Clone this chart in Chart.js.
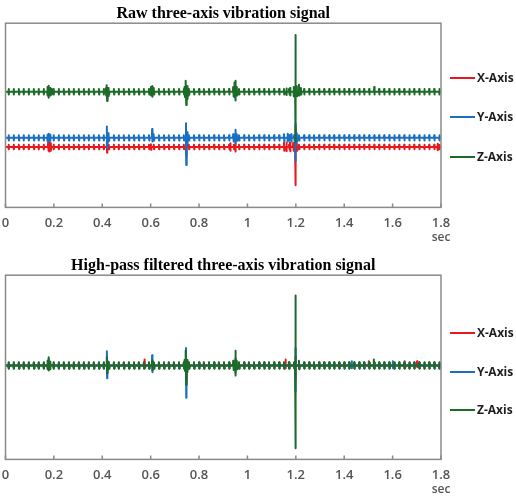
<!DOCTYPE html>
<html>
<head>
<meta charset="utf-8">
<script src="https://cdn.jsdelivr.net/npm/chart.js@4.4.0/dist/chart.umd.min.js"></script>
<style>
  body { margin: 0; background: #fff; }
  #wrap { position: relative; width: 516px; height: 498px; overflow: hidden; }
  .panel { position: absolute; left: 0; width: 516px; height: 246px; }
  .leg { position: absolute; left: 450px; height: 16px; font: bold 12px "Open Sans", sans-serif; color: #1e1e1e; line-height: 16px; white-space: nowrap; }
  .leg i { display: inline-block; width: 25px; height: 2px; vertical-align: middle; margin-right: 2px; margin-top: -2px; }
  .unit { position: absolute; width: 40px; margin-left: -20px; text-align: center; font: 600 12px "Open Sans", sans-serif; color: #555; line-height: 16px; }
</style>
</head>
<body>
<div id="wrap">
  <div class="panel" style="top:0"><canvas id="rawChart"></canvas></div>
  <div class="panel" style="top:252px"><canvas id="hpChart"></canvas></div>
  <div id="legends"></div>
  <div class="unit" style="left:441px;top:229px">sec</div>
  <div class="unit" style="left:441px;top:481px">sec</div>
</div>
<script>
// shared small periodic ticks seen on all three axes (sec)
const tickTimes = [0.012, 0.033, 0.054, 0.074, 0.095, 0.116, 0.136, 0.157, 0.178, 0.198,
  0.219, 0.240, 0.261, 0.281, 0.302, 0.323, 0.343, 0.364, 0.385, 0.405,
  0.426, 0.447, 0.467, 0.488, 0.509, 0.530, 0.550, 0.571, 0.592, 0.612,
  0.633, 0.654, 0.674, 0.695, 0.716, 0.736, 0.757, 0.778, 0.799, 0.819,
  0.840, 0.861, 0.881, 0.902, 0.923, 0.943, 0.964, 0.985, 1.005, 1.026,
  1.047, 1.068, 1.088, 1.109, 1.130, 1.150, 1.171, 1.192, 1.212, 1.233,
  1.254, 1.274, 1.295, 1.316, 1.337, 1.357, 1.378, 1.399, 1.419, 1.440,
  1.461, 1.481, 1.502, 1.523, 1.543, 1.564, 1.585, 1.606, 1.626, 1.647,
  1.668, 1.688, 1.709, 1.730, 1.750, 1.771, 1.792];

const xTicks = [0, 0.2, 0.4, 0.6, 0.8, 1, 1.2, 1.4, 1.6, 1.8];
const seriesNames = ['X-Axis', 'Y-Axis', 'Z-Axis'];

// raw signal: baseline offsets and tick size per axis
const rawBase = [-3.44, -2.45, 2.56];
const rawTick = [0.25, 0.28, 0.3];
// bursts: [time, up, down] relative to baseline
const rawX = [[0.175, 0.45, 0.4], [0.180, 0.6, 0.5], [0.186, 0.4, 0.4], [0.418, 0.6, 0.62],
  [0.600, 0.3, 0.3], [0.745, 0.6, 1.07], [0.928, 0.4, 0.4], [0.949, 0.4, 0.5],
  [1.150, 0.45, 0.4], [1.160, 0.45, 0.45], [1.175, 0.5, 0.45], [1.188, 0.45, 0.4],
  [1.197, 2.2, 4.16], [1.203, 0.4, 0.4], [1.785, 0.35, 0.35]];
const rawY = [[0.172, 0.35, 0.35], [0.177, 0.45, 0.45], [0.183, 0.35, 0.3], [0.418, 1.24, 1.1],
  [0.423, 0.5, 0.4], [0.605, 0.95, 0.4], [0.610, 0.4, 0.3], [0.745, 1.6, 2.95],
  [0.750, 0.6, 0.8], [0.940, 0.4, 0.4], [0.949, 0.88, 0.6], [0.955, 0.4, 0.3],
  [1.150, 0.4, 0.4], [1.165, 0.45, 0.4], [1.180, 0.4, 0.4], [1.197, 1.6, 2.53], [1.203, 0.5, 0.4]];
const rawZ = [[0.172, 0.5, 0.4], [0.177, 0.66, 0.66], [0.183, 0.4, 0.4], [0.190, 0.3, 0.3],
  [0.414, 0.4, 0.4], [0.418, 0.7, 1.0], [0.423, 0.4, 0.5], [0.600, 0.5, 0.4],
  [0.605, 0.6, 0.55], [0.611, 0.4, 0.3], [0.740, 0.5, 0.6], [0.745, 1.2, 1.45],
  [0.750, 0.6, 0.8], [0.756, 0.3, 0.4], [0.940, 0.5, 0.5], [0.945, 1.0, 0.6],
  [0.949, 1.2, 0.95], [0.955, 0.5, 0.4], [1.150, 0.3, 0.3], [1.160, 0.35, 0.35],
  [1.175, 0.4, 0.4], [1.190, 0.5, 0.5], [1.197, 6.15, 5.4], [1.203, 0.6, 0.5],
  [1.212, 0.77, 0.4], [1.220, 0.4, 0.3], [1.523, 0.5, 0.3]];

// high-pass filtered signal: all axes centred on one baseline
const hpBase = [0.2, 0.2, 0.2];
const hpTick = [0.3, 0.3, 0.35];
const hpX = [[0.575, 0.66, 0.2], [0.745, 1.2, 1.6], [1.156, 0.66, 0.3], [1.197, 1.0, 1.5],
  [1.500, 0.45, 0.2], [1.650, 0.45, 0.2], [1.700, 0.45, 0.2]];
const hpY = [[0.177, 0.7, 0.4], [0.418, 1.54, 1.4], [0.605, 1.1, 0.73], [0.745, 1.9, 3.5],
  [0.949, 0.77, 0.77], [1.197, 1.9, 2.85], [1.430, 0.45, 0.3], [1.600, 0.45, 0.3]];
const hpZ = [[0.172, 0.5, 0.4], [0.177, 0.88, 0.55], [0.183, 0.4, 0.4], [0.418, 0.88, 0.85],
  [0.423, 0.4, 0.4], [0.605, 0.55, 0.55], [0.740, 0.6, 0.6], [0.745, 1.6, 2.1],
  [0.750, 0.6, 0.7], [0.940, 0.5, 0.5], [0.949, 1.6, 1.1], [0.955, 0.5, 0.4],
  [1.150, 0.35, 0.35], [1.170, 0.35, 0.35], [1.197, 7.6, 9.0], [1.212, 0.5, 0.4],
  [1.521, 0.66, 0.3]];

const colors = ['#e8191e', '#1a6fc2', '#1c6b28'];

function trace(base, tickAmp, bursts) {
  const events = tickTimes.map((t) => [t, tickAmp, tickAmp]).concat(bursts)
    .sort((a, b) => a[0] - b[0]);
  const pts = [{ x: 0, y: base }];
  events.forEach(([t, up, down]) => {
    pts.push({ x: t, y: base }, { x: t + 0.001, y: base + up },
      { x: t + 0.002, y: base - down }, { x: t + 0.003, y: base });
  });
  pts.push({ x: 1.8, y: base });
  return pts;
}

const framePlugin = {
  id: 'frame',
  afterDatasetsDraw(chart) {
    const { ctx, chartArea: a } = chart;
    const x = chart.scales.x;
    ctx.save();
    ctx.strokeStyle = '#8a8a8a';
    ctx.lineWidth = 1.5;
    ctx.strokeRect(a.left, a.top, a.right - a.left, a.bottom - a.top);
    ctx.beginPath();
    xTicks.forEach((v) => {
      const px = x.getPixelForValue(v);
      ctx.moveTo(px, a.bottom);
      ctx.lineTo(px, a.bottom - 4);
    });
    ctx.stroke();
    ctx.restore();
  },
};

function makeChart(id, title, bases, ticks, bursts) {
  return new Chart(document.getElementById(id), {
    type: 'scatter',
    data: {
      datasets: seriesNames.map((name, i) => ({
        label: name,
        data: trace(bases[i], ticks[i], bursts[i]),
        showLine: true,
        borderColor: colors[i],
        backgroundColor: colors[i],
        borderWidth: 2,
        borderJoinStyle: 'round',
        borderCapStyle: 'round',
        pointRadius: 0,
        tension: 0,
        order: 3 - i,
      })),
    },
    options: {
      responsive: true,
      maintainAspectRatio: false,
      animation: false,
      events: [],
      layout: { padding: { left: 5.5, right: 75, top: 2, bottom: 7 } },
      plugins: {
        legend: { display: false },
        tooltip: { enabled: false },
        title: {
          display: true,
          text: title,
          color: '#000',
          font: { family: 'Liberation Serif', size: 16, weight: 'bold' },
          padding: { top: 2, bottom: 0 },
        },
      },
      scales: {
        x: {
          type: 'linear',
          min: 0,
          max: 1.8,
          afterBuildTicks: (s) => { s.ticks = xTicks.map((v) => ({ value: v })); },
          afterFit: (s) => { s.paddingLeft = 0; s.paddingRight = 0; },
          ticks: {
            color: '#555',
            padding: 8,
            font: { family: 'Open Sans', size: 13, weight: '600' },
            callback: (v) => String(Number(v.toFixed(1))),
          },
          grid: { display: false, drawTicks: false },
          border: { display: false },
        },
        y: { display: false, min: -10, max: 10 },
      },
    },
    plugins: [framePlugin],
  });
}

makeChart('rawChart', 'Raw three-axis vibration signal', rawBase, rawTick, [rawX, rawY, rawZ]);
makeChart('hpChart', 'High-pass filtered three-axis vibration signal', hpBase, hpTick, [hpX, hpY, hpZ]);

// legends to the right of each panel
const legendTops = [[70, 109, 149], [325, 364, 402]];
const legBox = document.getElementById('legends');
legendTops.forEach((tops) => {
  tops.forEach((top, i) => {
    const d = document.createElement('div');
    d.className = 'leg';
    d.style.top = top + 'px';
    d.innerHTML = '<i style="background:' + colors[i] + '"></i>' + seriesNames[i];
    legBox.appendChild(d);
  });
});
</script>
</body>
</html>
